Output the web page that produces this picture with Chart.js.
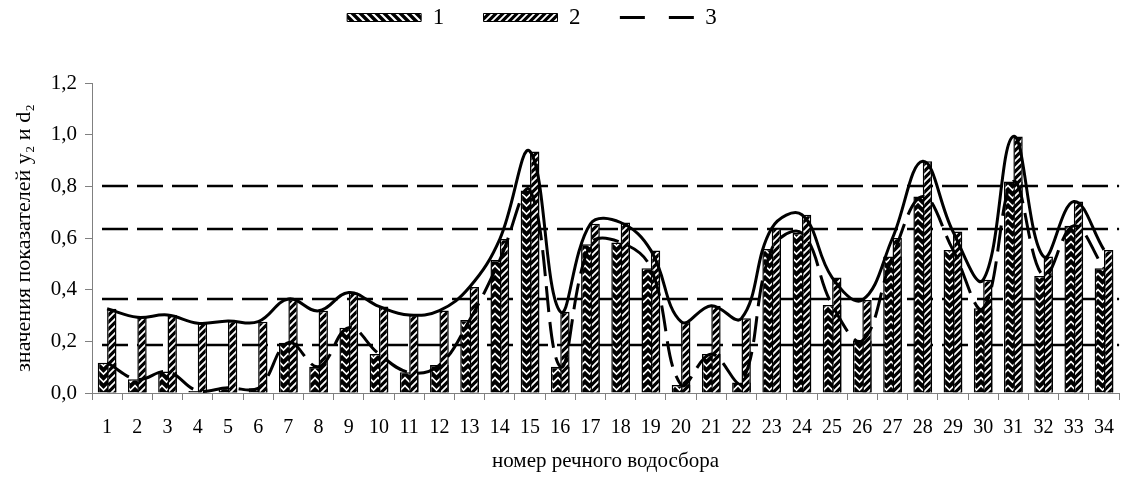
<!DOCTYPE html>
<html>
<head>
<meta charset="utf-8">
<script src="https://cdn.jsdelivr.net/npm/chart.js@4.4.1/dist/chart.umd.min.js"></script>
<style>
  html, body { margin: 0; padding: 0; background: #fff; }
  #wrap { width: 1130px; height: 484px; }
</style>
</head>
<body>
<div id="wrap"><canvas id="chart"></canvas></div>
<script>
// номера речных водосборов
const basins = ['1','2','3','4','5','6','7','8','9','10','11','12','13','14','15','16','17',
  '18','19','20','21','22','23','24','25','26','27','28','29','30','31','32','33','34'];
// серия 1 (d2)
const series1 = [0.117, 0.053, 0.083, 0.008, 0.02, 0.018, 0.195, 0.102, 0.253, 0.151, 0.08, 0.108,
  0.283, 0.515, 0.784, 0.102, 0.576, 0.583, 0.483, 0.031, 0.151, 0.041, 0.557, 0.619, 0.341, 0.203,
  0.528, 0.761, 0.554, 0.328, 0.819, 0.453, 0.647, 0.483];
// серия 2 (y2)
const series2 = [0.326, 0.293, 0.302, 0.27, 0.279, 0.276, 0.364, 0.318, 0.389, 0.335, 0.302, 0.319,
  0.41, 0.596, 0.935, 0.315, 0.655, 0.66, 0.552, 0.276, 0.338, 0.289, 0.638, 0.69, 0.447, 0.36,
  0.6, 0.897, 0.625, 0.438, 0.993, 0.528, 0.741, 0.554];
// граничные уровни (3)
const levels = [0.186, 0.364, 0.636, 0.8];
const yTicks = [0, 0.2, 0.4, 0.6, 0.8, 1.0, 1.2];

const canvas = document.getElementById('chart');
const mainCtx = canvas.getContext('2d');

makePattern = (w, h, draw) => {
  const c = document.createElement('canvas');
  c.width = w;
  c.height = h;
  const g = c.getContext('2d');
  g.fillStyle = '#000';
  g.fillRect(0, 0, w, h);
  g.strokeStyle = '#fff';
  draw(g, w, h);
  return mainCtx.createPattern(c, 'repeat');
};

// ёлочка для серии 1
const chevron = makePattern(9, 8, (g) => {
  g.lineWidth = 1.6;
  g.beginPath();
  g.moveTo(-0.5, 1); g.lineTo(4.5, 6); g.lineTo(9.5, 1);
  g.stroke();
});
// косая штриховка вниз (легенда 1)
const downDiag = makePattern(8, 8, (g) => {
  g.lineWidth = 2.2;
  g.beginPath();
  g.moveTo(-2, -2); g.lineTo(10, 10);
  g.moveTo(-10, -2); g.lineTo(2, 10);
  g.moveTo(6, -2); g.lineTo(18, 10);
  g.stroke();
});
// косая штриховка вверх для серии 2
const upDiag = makePattern(7, 7, (g) => {
  g.lineWidth = 1.8;
  g.beginPath();
  g.moveTo(-2, 9); g.lineTo(9, -2);
  g.moveTo(-9, 9); g.lineTo(2, -2);
  g.moveTo(5, 9); g.lineTo(16, -2);
  g.stroke();
});

const levelLines = {
  id: 'levelLines',
  beforeDatasetsDraw(chart) {
    const { ctx, chartArea, scales } = chart;
    ctx.save();
    ctx.strokeStyle = '#000';
    ctx.lineWidth = 2.6;
    ctx.setLineDash([26, 9]);
    levels.forEach((v) => {
      const py = Math.round(scales.y.getPixelForValue(v));
      ctx.beginPath();
      ctx.moveTo(chartArea.left + 10, py);
      ctx.lineTo(chartArea.right, py);
      ctx.stroke();
    });
    ctx.restore();
  },
};

// отступ под легендой и сдвиг легенды влево
const legendGap = {
  id: 'legendGap',
  beforeInit(chart) {
    const lg = chart.legend;
    const fit = lg.fit;
    lg.fit = function () {
      fit.bind(lg)();
      this.height += 44;
    };
    const draw = lg.draw;
    lg.draw = function (...args) {
      this.ctx.save();
      this.ctx.translate(-33, 0);
      draw.apply(lg, args);
      this.ctx.restore();
    };
  },
};

Chart.defaults.font.family = "'Liberation Serif', 'Times New Roman', serif";
Chart.defaults.color = '#000';

const barOpts = { categoryPercentage: 0.62, barPercentage: 1.0, borderColor: '#000', borderWidth: 1.5 };
const gap = '\u00a0\u00a0\u00a0\u00a0\u00a0\u2009';

new Chart(canvas, {
  type: 'bar',
  data: {
    labels: basins,
    datasets: [
      {
        type: 'line', label: '3', data: series1, borderColor: '#000', borderWidth: 3,
        borderDash: [26, 10], pointRadius: 0, tension: 0.4, order: 0,
      },
      {
        type: 'line', label: 'y2', data: series2, borderColor: '#000', borderWidth: 3,
        pointRadius: 0, tension: 0.4, order: 0,
      },
      { label: '', data: basins.map(() => null), ...barOpts, order: 1 },
      { label: '2', data: series2, backgroundColor: upDiag, ...barOpts, order: 2 },
      { label: '1', data: series1, backgroundColor: chevron, ...barOpts, grouped: false, order: 3 },
    ],
  },
  options: {
    responsive: true,
    maintainAspectRatio: false,
    animation: false,
    layout: { padding: 0 },
    plugins: {
      tooltip: { enabled: false },
      legend: {
        position: 'top',
        labels: {
          usePointStyle: true,
          pointStyleWidth: 74,
          boxHeight: 8,
          padding: 6,
          font: { size: 23 },
          generateLabels: () => [
            { text: '1' + gap, fillStyle: downDiag, strokeStyle: '#000', lineWidth: 1, pointStyle: 'rect', hidden: false, datasetIndex: 4 },
            { text: '2' + gap, fillStyle: upDiag, strokeStyle: '#000', lineWidth: 1, pointStyle: 'rect', hidden: false, datasetIndex: 3 },
            { text: '3', fillStyle: 'rgba(0,0,0,0)', strokeStyle: '#000', lineWidth: 3, lineDash: [25, 24], pointStyle: 'line', hidden: false, datasetIndex: 0 },
          ],
        },
      },
    },
    scales: {
      x: {
        offset: true,
        grid: { offset: true, drawOnChartArea: false, tickLength: 7, color: '#808080' },
        border: { color: '#808080', width: 1 },
        ticks: { font: { size: 20 }, padding: 16, maxRotation: 0, autoSkip: false },
        title: { display: true, text: 'номер речного водосбора', font: { size: 21 }, padding: { top: 4, bottom: 10 } },
        afterFit: (s) => { s.height = 91; },
      },
      y: {
        min: 0,
        max: 1.2,
        afterBuildTicks: (s) => { s.ticks = yTicks.map((v) => ({ value: v })); },
        grid: { drawOnChartArea: false, tickLength: 7, color: '#808080' },
        border: { color: '#808080', width: 1 },
        ticks: { font: { size: 21 }, padding: 8, callback: (v) => v.toFixed(1).replace('.', ',') },
        title: { display: true, text: 'значения показателей y₂ и d₂', font: { size: 22 }, padding: { top: 11, bottom: 4 } },
        afterFit: (s) => { s.width = 92; },
      },
    },
  },
  plugins: [levelLines, legendGap],
});
</script>
</body>
</html>
